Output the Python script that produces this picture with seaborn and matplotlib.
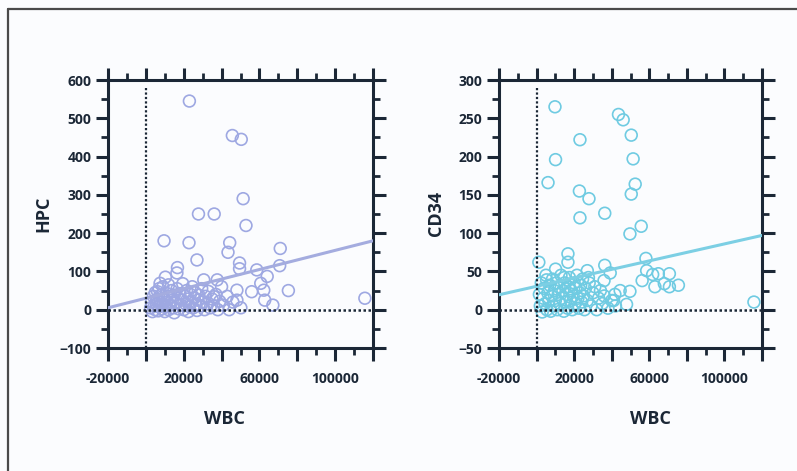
import matplotlib
matplotlib.use("Agg")
import matplotlib.pyplot as plt
from matplotlib.lines import Line2D
from matplotlib.ticker import MultipleLocator
import seaborn as sns

# ---------------- data ----------------
# Left panel: HPC vs WBC
hpc_wbc = [23000, 45700, 50400, 51400, 27800, 36100, 52900, 9600, 22800, 44300,
           43400, 27000, 71000, 70700, 49500, 49500, 58600, 64100, 75300, 60700,
           55900, 62300, 62800, 67100, 48100, 48100, 50200, 115700, 16700, 16400,
           10300, 7500, 6200, 30600, 37700, 36000, 5700,
           2500, 3000, 3500, 4000, 4500, 5000, 5000, 5500, 6000, 6500,
           7000, 7000, 7500, 8000, 8500, 9000, 9000, 9500, 10000, 10500,
           11000, 11000, 12000, 12000, 12500, 13000, 13500, 14000, 14500, 15000,
           15000, 16000, 16500, 17000, 17500, 18000, 18500, 19000, 19500, 20000,
           20500, 21000, 21500, 22000, 22500, 23000, 23500, 24000, 24500, 25000,
           25500, 26000, 26500, 27000, 27500, 28000, 29000, 29500, 30000, 31000,
           31500, 32000, 33000, 34000, 35000, 36000, 37000, 38000, 39000, 40000,
           41000, 43000, 44000, 46000]
hpc_val = [545, 455, 445, 290, 250, 250, 220, 180, 175, 175,
           150, 130, 160, 115, 122, 107, 104, 87, 50, 69,
           47, 51, 25, 12, 51, 25, 5, 30, 110, 96,
           85, 69, 47, 78, 78, 34, 25,
           5, 20, -5, 35, 10, 0, 45, 15, 28, -3,
           8, 55, 22, 38, 2, 15, 60, 30, -5, 8,
           42, 20, 0, 65, 30, 12, 50, 25, 5, 38,
           -8, 18, 55, 30, 2, 42, 12, 25, 68, 0,
           35, 15, 50, 28, -5, 8, 40, 20, 60, 5,
           30, 45, 12, -2, 25, 38, 10, 55, 20, 0,
           35, 15, 48, 5, 28, 10, 40, 0, 22, 60,
           12, 35, 0, 20]
hpc_fit_x = [-20000, 120000]
hpc_fit_y = [5, 180]

# Right panel: CD34 vs WBC
cd34_wbc = [9800, 43600, 46100, 23100, 50400, 10100, 51400, 6100, 52500, 22800,
            27900, 50400, 23100, 36300, 49700, 55700, 1200, 16700, 16700, 10100,
            5300, 14800, 27000, 27600, 36300, 39200, 35900, 58200, 58600, 56200,
            61800, 63000, 64800, 68000, 70700, 70700, 75500, 44500, 49700, 47900,
            41700, 41000, 115700,
            1500, 2000, 2500, 3000, 3500, 4000, 4500, 5000, 5500, 6000,
            6500, 7000, 7500, 8000, 8500, 9000, 9500, 10000, 10500, 11000,
            11500, 12000, 12500, 13000, 13500, 14000, 14500, 15000, 15500, 16000,
            16500, 17000, 17500, 18000, 18500, 19000, 19500, 20000, 20500, 21000,
            21500, 22000, 22500, 23000, 23500, 24000, 24500, 25000, 25500, 26000,
            27000, 28000, 29000, 30000, 31000, 32000, 33000, 34000, 35000, 36000,
            38000, 40000, 42000]
cd34_val = [265, 255, 248, 222, 228, 196, 197, 166, 164, 155,
            145, 151, 120, 126, 99, 109, 62, 73, 62, 53,
            39, 42, 51, 42, 58, 48, 38, 67, 51, 38,
            46, 30, 47, 34, 47, 30, 32, 25, 24, 7,
            20, 12, 10,
            20, 5, 35, -3, 15, 28, 8, 45, 0, 22,
            12, 32, -2, 18, 40, 5, 25, 12, 35, 0,
            20, 30, 8, 45, 15, 25, -2, 35, 10, 20,
            2, 30, 42, 12, 25, 0, 18, 35, 8, 28,
            45, 15, 2, 22, 32, 10, 40, 18, 0, 28,
            12, 35, 5, 22, 30, 0, 15, 25, 8, 18,
            2, 12, 5]
cd34_fit_x = [-20000, 120000]
cd34_fit_y = [19.5, 97]

x_ticks = [-20000, 0, 20000, 40000, 60000, 80000, 100000, 120000]
x_ticklabels = ["-20000", "", "20000", "", "60000", "", "100000", ""]

# ---------------- style ----------------
sns.set_theme(style="white")
plt.rcParams["font.family"] = ["Open Sans", "DejaVu Sans"]
dark = "#1b2736"
bg = "#fbfcfe"

fig = plt.figure(figsize=(7.97, 4.71), dpi=100, facecolor=bg)
axL = fig.add_axes([108 / 797, 123 / 471, 265 / 797, 268 / 471])
axR = fig.add_axes([499 / 797, 123 / 471, 263 / 797, 268 / 471])

panels = [
    (axL, hpc_wbc, hpc_val, hpc_fit_x, hpc_fit_y, "#9ea8e2", "#a4acdf",
     (-100, 600), 100, 50, "HPC", 0.44, -0.21),
    (axR, cd34_wbc, cd34_val, cd34_fit_x, cd34_fit_y, "#6fcbe2", "#7ccfe4",
     (-50, 300), 50, 25, "CD34", 0.574, -0.205),
]

for ax, xs, ys, fx, fy, mcol, lcol, ylim, ymaj, ymin, ylab, wbcx, ylx in panels:
    ax.set_facecolor(bg)
    sns.scatterplot(x=xs, y=ys, ax=ax, marker="o", s=72, facecolors="none",
                    edgecolor=mcol, linewidth=1.2, zorder=2)
    sns.lineplot(x=fx, y=fy, ax=ax, color=lcol, linewidth=2.2, zorder=3)
    ax.axhline(0, color=dark, linestyle=(0, (1, 1)), linewidth=1.8, zorder=4)
    ax.axvline(0, ymax=0.97, color=dark, linestyle=(0, (1, 1)), linewidth=1.6, zorder=4)

    ax.set_xlim(-20000, 120000)
    ax.set_ylim(*ylim)
    ax.set_xticks(x_ticks)
    ax.set_xticklabels(x_ticklabels)
    ax.xaxis.set_minor_locator(MultipleLocator(10000))
    ax.yaxis.set_major_locator(MultipleLocator(ymaj))
    ax.yaxis.set_minor_locator(MultipleLocator(ymin))

    for sp in ax.spines.values():
        sp.set_visible(True)
        sp.set_color(dark)
        sp.set_linewidth(2.2)

    ax.tick_params(which="major", direction="out", length=9, width=2.2, color=dark,
                   top=True, right=True, bottom=True, left=True,
                   labelsize=10, labelcolor=dark)
    ax.tick_params(which="minor", direction="out", length=5, width=2, color=dark,
                   top=True, right=True, bottom=True, left=True)
    ax.tick_params(axis="x", which="major", pad=8)
    ax.tick_params(axis="y", which="major", pad=3)
    for lab in ax.get_xticklabels() + ax.get_yticklabels():
        lab.set_fontweight("bold")

    ax.set_xlabel("WBC", fontsize=13, fontweight="bold", color=dark)
    ax.set_ylabel(ylab, fontsize=13, fontweight="bold", color=dark)
    ax.xaxis.set_label_coords(wbcx, -0.232)
    ax.yaxis.set_label_coords(ylx, 0.5)

# figure frame (top and left edges)
fig.add_artist(Line2D([8 / 797, 8 / 797], [0, 1 - 9 / 471], transform=fig.transFigure,
                      color="#4a4a4a", linewidth=1.6))
fig.add_artist(Line2D([8 / 797, 1], [1 - 9 / 471, 1 - 9 / 471], transform=fig.transFigure,
                      color="#4a4a4a", linewidth=1.6))

fig.savefig("out.png", dpi=100, facecolor=bg)
